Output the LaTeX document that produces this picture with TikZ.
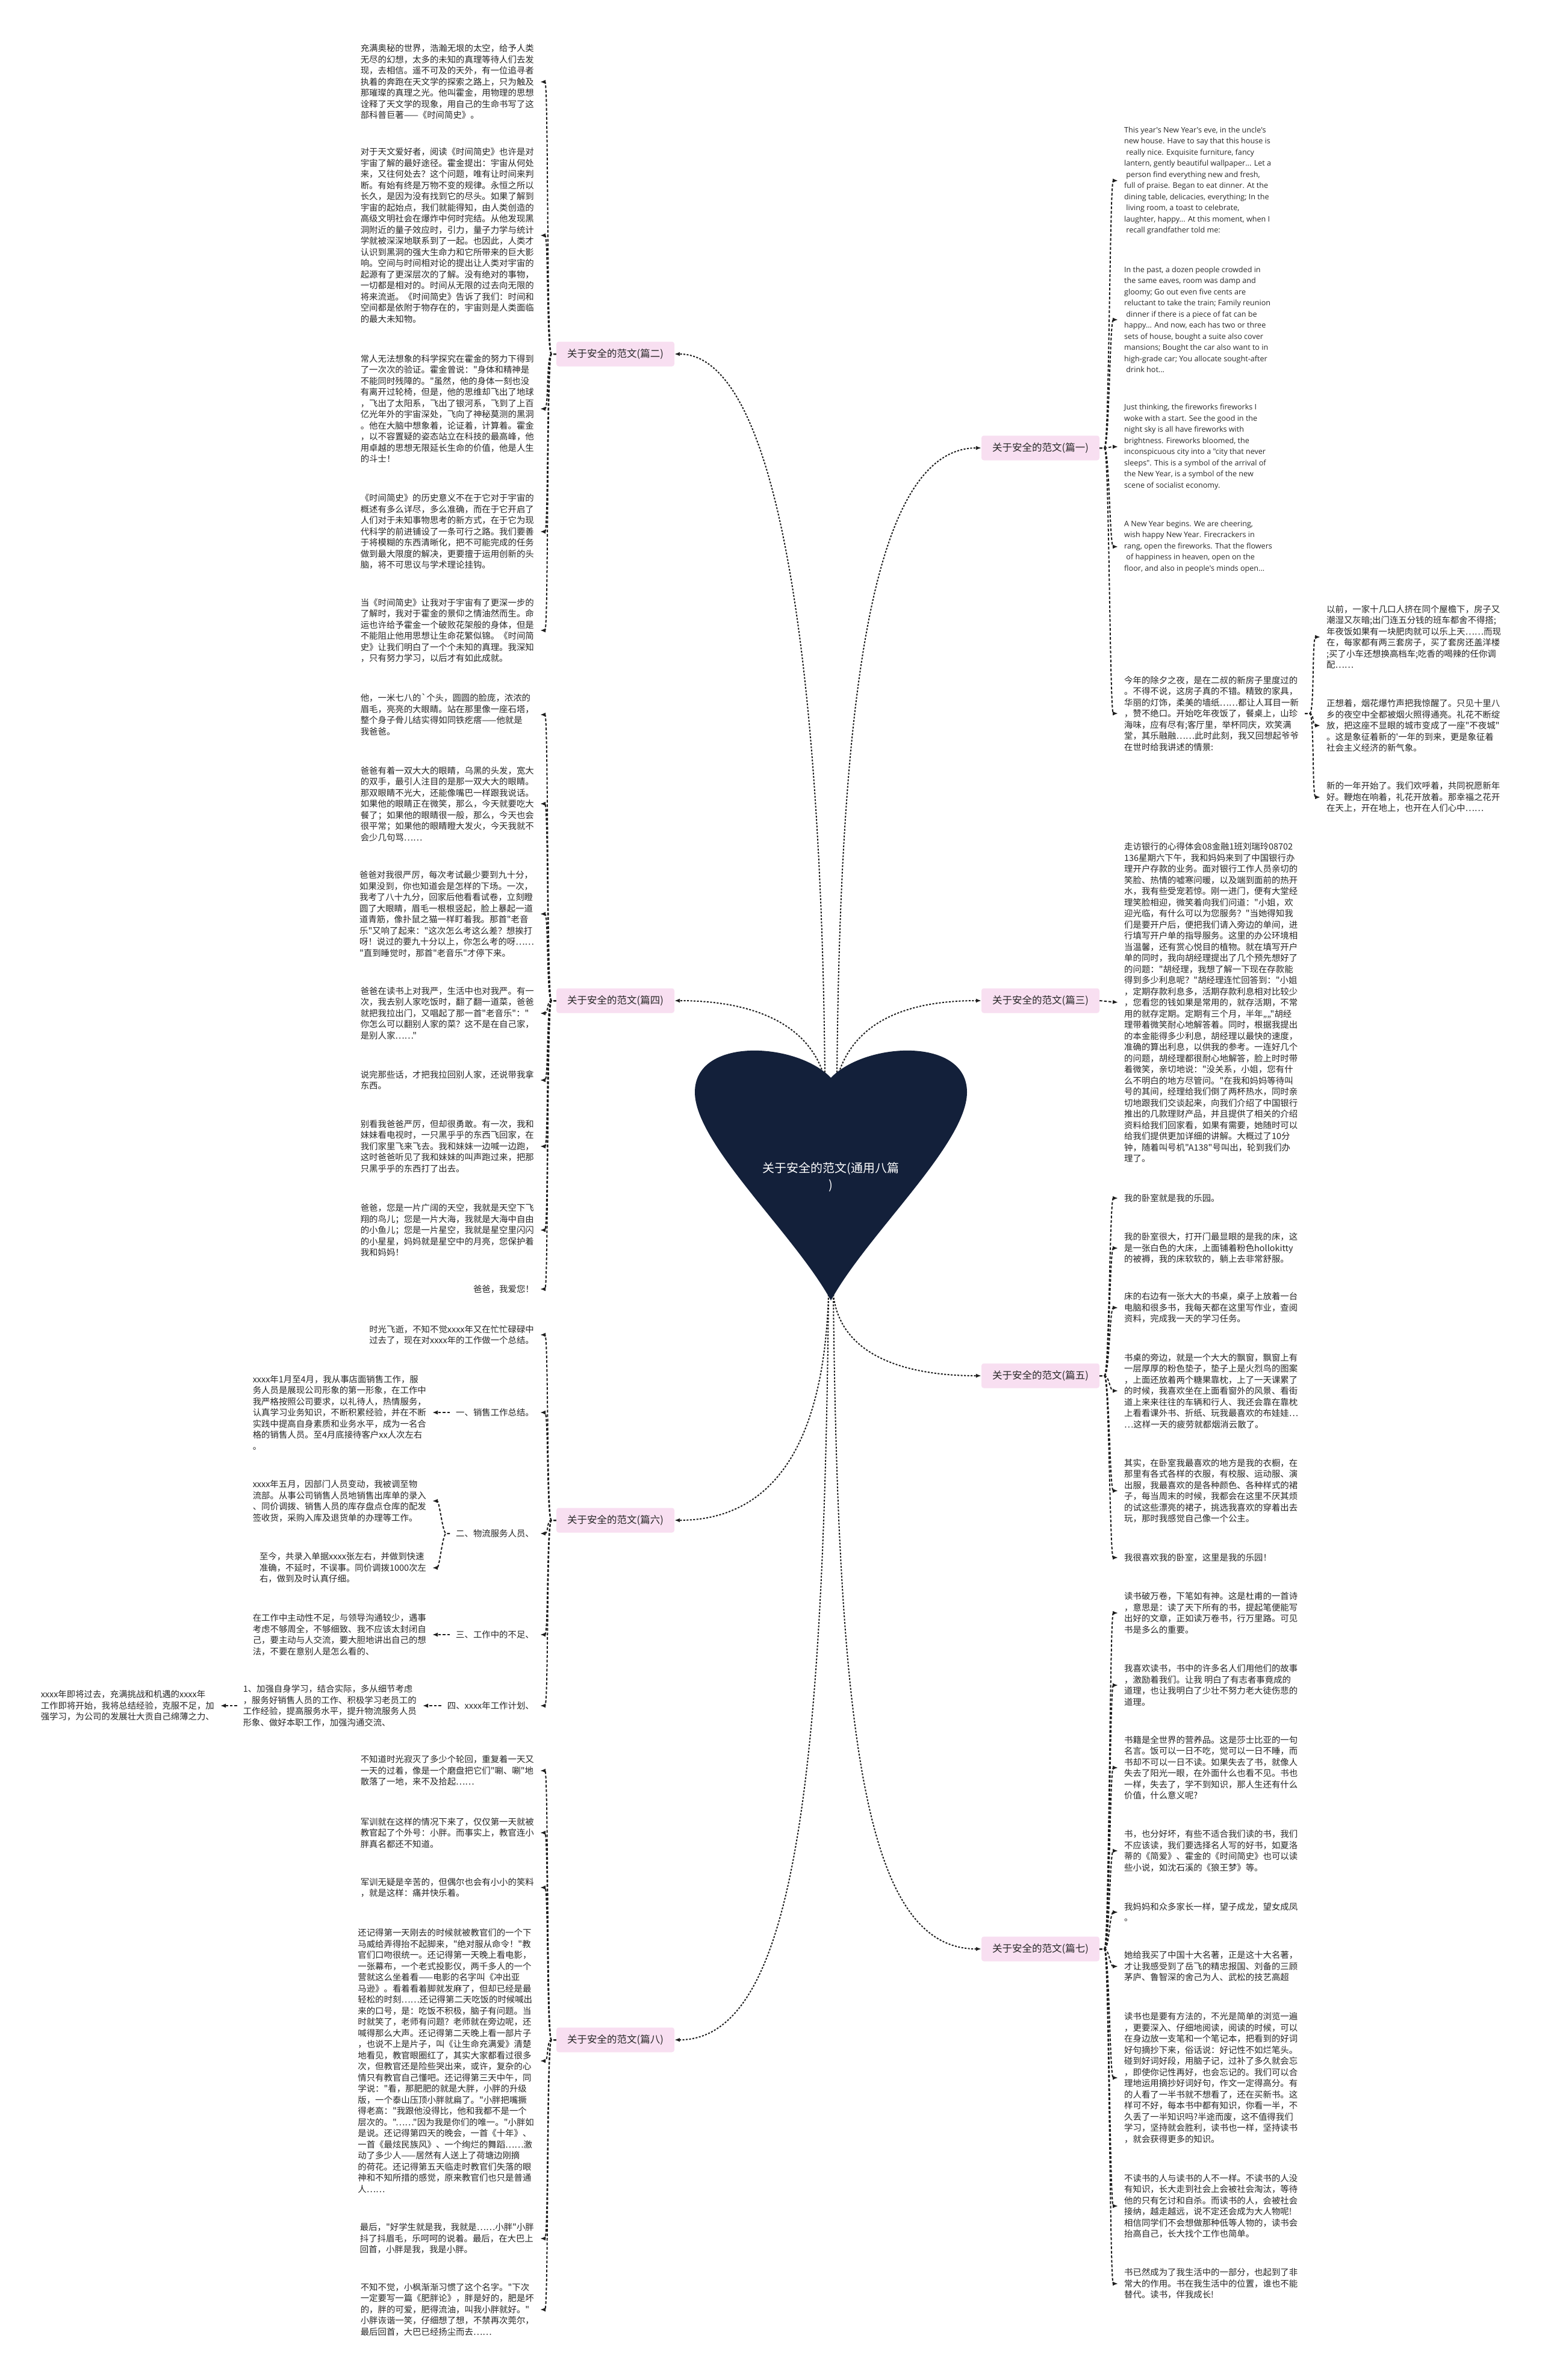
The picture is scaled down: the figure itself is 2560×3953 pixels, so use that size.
\documentclass[tikz,border=0pt]{standalone}
\usepackage{fontspec}
\usetikzlibrary{arrows.meta}
\newfontfamily\cjk{Noto Sans CJK SC}
\newfontfamily\efont{Open Sans}
\definecolor{pinkc}{HTML}{F8DFF1}
\definecolor{heartc}{HTML}{13203A}
\definecolor{linec}{HTML}{1E1E1E}
\definecolor{textc}{HTML}{262626}
\begin{document}
\begin{tikzpicture}[x=1pt,y=-1pt,
  txt/.style={font=\cjk\fontsize{14.4}{18.5}\selectfont, text=textc, align=left, inner xsep=10pt, inner ysep=2pt},
  ltxt/.style={txt, anchor=east},
  rtxt/.style={txt, anchor=west},
  etxt/.style={rtxt, font=\efont\fontsize{12.6}{18.5}\selectfont},
  lab/.style={fill=pinkc, rounded corners=4pt, font=\cjk\fontsize{16.5}{20}\selectfont, text=textc, minimum width=196pt, minimum height=41pt, inner sep=0pt},
  conn/.style={draw=linec, line width=2pt, dash pattern=on 4.5pt off 3pt, -{Latex[length=9pt,width=7pt]}},
  mconn/.style={draw=linec, line width=2pt, dash pattern=on 3pt off 2.5pt, -{Latex[length=9pt,width=7pt]}}
]
\useasboundingbox (0,0) rectangle (2560,3953);
\fill[white] (0,0) rectangle (2560,3953);

% ---------- heart anchor points ----------
\coordinate (htl) at (1370,1792);
\coordinate (htr) at (1390,1792);
\coordinate (hbl) at (1376,2150);
\coordinate (hbr) at (1384,2150);

% ---------- branch labels ----------
\node[lab] (l2) at (1022,588) {关于安全的范文(篇二)};
\node[lab] (l4) at (1022,1662) {关于安全的范文(篇四)};
\node[lab] (l6) at (1022,2525) {关于安全的范文(篇六)};
\node[lab] (l8) at (1022,3388) {关于安全的范文(篇八)};
\node[lab] (l1) at (1728,744) {关于安全的范文(篇一)};
\node[lab] (l3) at (1728,1662) {关于安全的范文(篇三)};
\node[lab] (l5) at (1728,2285) {关于安全的范文(篇五)};
\node[lab] (l7) at (1728,3237) {关于安全的范文(篇七)};

% ---------- 篇二 ----------
\node[ltxt] (a1) at (897,136) {充满奥秘的世界，浩瀚无垠的太空，给予人类\\无尽的幻想，太多的未知的真理等待人们去发\\现，去相信。遥不可及的天外，有一位追寻者\\执着的奔跑在天文学的探索之路上，只为触及\\那璀璨的真理之光。他叫霍金，用物理的思想\\诠释了天文学的现象，用自己的生命书写了这\\部科普巨著——《时间简史》。};
\node[ltxt] (a2) at (897,391) {对于天文爱好者，阅读《时间简史》也许是对\\宇宙了解的最好途径。霍金提出：宇宙从何处\\来，又往何处去？这个问题，唯有让时间来判\\断。有始有终是万物不变的规律。永恒之所以\\长久，是因为没有找到它的尽头。如果了解到\\宇宙的起始点，我们就能得知，由人类创造的\\高级文明社会在爆炸中何时完结。从他发现黑\\洞附近的量子效应时，引力，量子力学与统计\\学就被深深地联系到了一起。也因此，人类才\\认识到黑洞的强大生命力和它所带来的巨大影\\响。空间与时间相对论的提出让人类对宇宙的\\起源有了更深层次的了解。没有绝对的事物，\\一切都是相对的。时间从无限的过去向无限的\\将来流逝。《时间简史》告诉了我们：时间和\\空间都是依附于物存在的，宇宙则是人类面临\\的最大未知物。};
\node[ltxt] (a3) at (897,679) {常人无法想象的科学探究在霍金的努力下得到\\了一次次的验证。霍金曾说："身体和精神是\\不能同时残障的。"虽然，他的身体一刻也没\\有离开过轮椅，但是，他的思维却飞出了地球\\，飞出了太阳系，飞出了银河系，飞到了上百\\亿光年外的宇宙深处，飞向了神秘莫测的黑洞\\。他在大脑中想象着，论证着，计算着。霍金\\，以不容置疑的姿态站立在科技的最高峰，他\\用卓越的思想无限延长生命的价值，他是人生\\的斗士！};
\node[ltxt] (a4) at (897,883) {《时间简史》的历史意义不在于它对于宇宙的\\概述有多么详尽，多么准确，而在于它开启了\\人们对于未知事物思考的新方式，在于它为现\\代科学的前进铺设了一条可行之路。我们要善\\于将模糊的东西清晰化，把不可能完成的任务\\做到最大限度的解决，更要擅于运用创新的头\\脑，将不可思议与学术理论挂钩。};
\node[ltxt] (a5) at (897,1047) {当《时间简史》让我对于宇宙有了更深一步的\\了解时，我对于霍金的景仰之情油然而生。命\\运也许给予霍金一个破败花架般的身体，但是\\不能阻止他用思想让生命花繁似锦。《时间简\\史》让我们明白了一个个未知的真理。我深知\\，只有努力学习，以后才有如此成就。};

% ---------- 篇四 ----------
\node[ltxt] (b1) at (897,1187) {他，一米七八的\symbol{96}个头，圆圆的脸庞，浓浓的\\眉毛，亮亮的大眼睛。站在那里像一座石塔，\\整个身子骨儿结实得如同铁疙瘩——他就是\\我爸爸。};
\node[ltxt] (b2) at (897,1335) {爸爸有着一双大大的眼睛，乌黑的头发，宽大\\的双手，最引人注目的是那一双大大的眼睛。\\那双眼睛不光大，还能像嘴巴一样跟我说话。\\如果他的眼睛正在微笑，那么，今天就要吃大\\餐了；如果他的眼睛很一般，那么，今天也会\\很平常；如果他的眼睛瞪大发火，今天我就不\\会少几句骂……};
\node[ltxt] (b3) at (897,1518) {爸爸对我很严厉，每次考试最少要到九十分，\\如果没到，你也知道会是怎样的下场。一次，\\我考了八十九分，回家后他看看试卷，立刻瞪\\圆了大眼睛，眉毛一根根竖起，脸上暴起一道\\道青筋，像扑鼠之猫一样盯着我。那首"老音\\乐"又响了起来："这次怎么考这么差？想挨打\\呀！说过的要九十分以上，你怎么考的呀……\\"直到睡觉时，那首"老音乐"才停下来。};
\node[ltxt] (b4) at (897,1683) {爸爸在读书上对我严，生活中也对我严。有一\\次，我去别人家吃饭时，翻了翻一道菜，爸爸\\就把我拉出门，又唱起了那一首"老音乐"："\\你怎么可以翻别人家的菜？这不是在自己家，\\是别人家……"};
\node[ltxt] (b5) at (897,1794) {说完那些话，才把我拉回别人家，还说带我拿\\东西。};
\node[ltxt] (b6) at (897,1904) {别看我爸爸严厉，但却很勇敢。有一次，我和\\妹妹看电视时，一只黑乎乎的东西飞回家，在\\我们家里飞来飞去。我和妹妹一边喊一边跑，\\这时爸爸听见了我和妹妹的叫声跑过来，把那\\只黑乎乎的东西打了出去。};
\node[ltxt] (b7) at (897,2043) {爸爸，您是一片广阔的天空，我就是天空下飞\\翔的鸟儿；您是一片大海，我就是大海中自由\\的小鱼儿；您是一片星空，我就是星空里闪闪\\的小星星，妈妈就是星空中的月亮，您保护着\\我和妈妈！};
\node[ltxt] (b8) at (897,2141) {爸爸，我爱您！};

% ---------- 篇六 ----------
\node[ltxt] (t0) at (897,2217) {时光飞逝，不知不觉xxxx年又在忙忙碌碌中\\过去了，现在对xxxx年的工作做一个总结。};
\node[ltxt] (s1) at (897,2346) {一、销售工作总结。};
\node[ltxt] (c1) at (718,2346) {xxxx年1月至4月，我从事店面销售工作，服\\务人员是展现公司形象的第一形象，在工作中\\我严格按照公司要求，以礼待人，热情服务，\\认真学习业务知识，不断积累经验，并在不断\\实践中提高自身素质和业务水平，成为一名合\\格的销售人员。至4月底接待客户xx人次左右\\。};
\node[ltxt] (s2) at (897,2547) {二、物流服务人员、};
\node[ltxt] (c2a) at (718,2493) {xxxx年五月，因部门人员变动，我被调至物\\流部。从事公司销售人员地销售出库单的录入\\、同价调拨、销售人员的库存盘点仓库的配发\\签收货，采购入库及退货单的办理等工作。};
\node[ltxt] (c2b) at (718,2604) {至今，共录入单据xxxx张左右，并做到快速\\准确，不延时，不误事。同价调拨1000次左\\右，做到及时认真仔细。};
\node[ltxt] (s3) at (897,2715) {三、工作中的不足、};
\node[ltxt] (c3) at (718,2715) {在工作中主动性不足，与领导沟通较少，遇事\\考虑不够周全，不够细致、我不应该太封闭自\\己，要主动与人交流，要大胆地讲出自己的想\\法，不要在意别人是怎么看的、};
\node[ltxt] (s4) at (897,2833) {四、xxxx年工作计划、};
\node[ltxt] (c4) at (702,2833) {1、加强自身学习，结合实际，多从细节考虑\\，服务好销售人员的工作、积极学习老员工的\\工作经验，提高服务水平，提升物流服务人员\\形象、做好本职工作，加强沟通交流、};
\node[ltxt] (c5) at (366,2833) {xxxx年即将过去，充满挑战和机遇的xxxx年\\工作即将开始，我将总结经验，克服不足，加\\强学习，为公司的发展壮大贡自己绵薄之力、};

% ---------- 篇八 ----------
\node[ltxt] (d1) at (897,2941) {不知道时光寂灭了多少个轮回，重复着一天又\\一天的过着，像是一个磨盘把它们"唰、唰"地\\散落了一地，来不及拾起……};
\node[ltxt] (d2) at (897,3044) {军训就在这样的情况下来了，仅仅第一天就被\\教官起了个外号：小胖。而事实上，教官连小\\胖真名都还不知道。};
\node[ltxt] (d3) at (897,3135) {军训无疑是辛苦的，但偶尔也会有小小的笑料\\，就是这样：痛并快乐着。};
\node[ltxt] (d4) at (897,3423) {还记得第一天刚去的时候就被教官们的一个下\\马威给弄得抬不起脚来，"绝对服从命令！"教\\官们口吻很统一。还记得第一天晚上看电影，\\一张幕布，一个老式投影仪，两千多人的一个\\营就这么坐着看——电影的名字叫《冲出亚\\马逊》。看着看着脚就发麻了，但却已经是最\\轻松的时刻……还记得第二天吃饭的时候喊出\\来的口号，是：吃饭不积极，脑子有问题。当\\时就笑了，老师有问题？老师就在旁边呢，还\\喊得那么大声。还记得第二天晚上看一部片子\\，也说不上是片子，叫《让生命充满爱》清楚\\地看见，教官眼圈红了，其实大家都看过很多\\次，但教官还是险些哭出来，或许，复杂的心\\情只有教官自己懂吧。还记得第三天中午，同\\学说："看，那肥肥的就是大胖，小胖的升级\\版，一个泰山压顶小胖就扁了。"小胖把嘴撅\\得老高："我跟他没得比，他和我都不是一个\\层次的。"……"因为我是你们的唯一。"小胖如\\是说。还记得第四天的晚会，一首《十年》、\\一首《最炫民族风》、一个绚烂的舞蹈……激\\动了多少人——居然有人送上了荷塘边刚摘\\的荷花。还记得第五天临走时教官们失落的眼\\神和不知所措的感觉，原来教官们也只是普通\\人……};
\node[ltxt] (d5) at (897,3718) {最后，"好学生就是我，我就是……小胖"小胖\\抖了抖眉毛，乐呵呵的说着。最后，在大巴上\\回首，小胖是我，我是小胖。};
\node[ltxt] (d6) at (897,3836) {不知不觉，小枫渐渐习惯了这个名字。"下次\\一定要写一篇《肥胖论》，胖是好的，肥是坏\\的，胖的可爱，肥得流油，叫我小胖就好。"\\小胖诙谐一笑，仔细想了想，不禁再次莞尔，\\最后回首，大巴已经扬尘而去……};

% ---------- 篇一 ----------
\node[etxt] (e1) at (1857,300) {This year's New Year's eve, in the uncle's\\new house. Have to say that this house is\\\ really nice. Exquisite furniture, fancy\\lantern, gently beautiful wallpaper... Let a\\\ person find everything new and fresh,\\full of praise. Began to eat dinner. At the\\dining table, delicacies, everything; In the\\\ living room, a toast to celebrate,\\laughter, happy... At this moment, when I\\\ recall grandfather told me:};
\node[etxt] (e2) at (1857,531) {In the past, a dozen people crowded in\\the same eaves, room was damp and\\gloomy; Go out even five cents are\\reluctant to take the train; Family reunion\\\ dinner if there is a piece of fat can be\\happy... And now, each has two or three\\sets of house, bought a suite also cover\\mansions; Bought the car also want to in\\high-grade car; You allocate sought-after\\\ drink hot...};
\node[etxt] (e3) at (1857,742) {Just thinking, the fireworks fireworks I\\woke with a start. See the good in the\\night sky is all have fireworks with\\brightness. Fireworks bloomed, the\\inconspicuous city into a "city that never\\sleeps". This is a symbol of the arrival of\\the New Year, is a symbol of the new\\scene of socialist economy.};
\node[etxt] (e4) at (1857,908) {A New Year begins. We are cheering,\\wish happy New Year. Firecrackers in\\rang, open the fireworks. That the flowers\\\ of happiness in heaven, open on the\\floor, and also in people's minds open...};
\node[rtxt] (e5) at (1857,1185) {今年的除夕之夜，是在二叔的新房子里度过的\\。不得不说，这房子真的不错。精致的家具，\\华丽的灯饰，柔美的墙纸……都让人耳目一新\\，赞不绝口。开始吃年夜饭了，餐桌上，山珍\\海味，应有尽有;客厅里，举杯同庆，欢笑满\\堂，其乐融融……此时此刻，我又回想起爷爷\\在世时给我讲述的情景:};
\node[rtxt] (fa) at (2193,1058) {以前，一家十几口人挤在同个屋檐下，房子又\\潮湿又灰暗;出门连五分钱的班车都舍不得搭;\\年夜饭如果有一块肥肉就可以乐上天……而现\\在，每家都有两三套房子，买了套房还盖洋楼\\;买了小车还想换高档车;吃香的喝辣的任你调\\配……};
\node[rtxt] (fb) at (2193,1205) {正想着，烟花爆竹声把我惊醒了。只见十里八\\乡的夜空中全都被烟火照得通亮。礼花不断绽\\放，把这座不显眼的城市变成了一座"不夜城"\\。这是象征着新的'一年的到来，更是象征着\\社会主义经济的新气象。};
\node[rtxt] (fc) at (2193,1324) {新的一年开始了。我们欢呼着，共同祝愿新年\\好。鞭炮在响着，礼花开放着。那幸福之花开\\在天上，开在地上，也开在人们心中……};

% ---------- 篇三 ----------
\node[rtxt] (g1) at (1857,1665) {走访银行的心得体会08金融1班刘瑞玲08702\\136星期六下午，我和妈妈来到了中国银行办\\理开户存款的业务。面对银行工作人员亲切的\\笑脸、热情的嘘寒问暖，以及端到面前的热开\\水，我有些受宠若惊。刚一进门，便有大堂经\\理笑脸相迎，微笑着向我们问道："小姐，欢\\迎光临，有什么可以为您服务？"当她得知我\\们是要开户后，便把我们请入旁边的单间，进\\行填写开户单的指导服务。这里的办公环境相\\当温馨，还有赏心悦目的植物。就在填写开户\\单的同时，我向胡经理提出了几个预先想好了\\的问题："胡经理，我想了解一下现在存款能\\得到多少利息呢？"胡经理连忙回答到："小姐\\，定期存款利息多，活期存款利息相对比较少\\，您看您的钱如果是常用的，就存活期，不常\\用的就存定期。定期有三个月，半年„„"胡经\\理带着微笑耐心地解答着。同时，根据我提出\\的本金能得多少利息，胡经理以最快的速度，\\准确的算出利息，以供我的参考。一连好几个\\的问题，胡经理都很耐心地解答，脸上时时带\\着微笑，亲切地说："没关系，小姐，您有什\\么不明白的地方尽管问。"在我和妈妈等待叫\\号的其间，经理给我们倒了两杯热水，同时亲\\切地跟我们交谈起来，向我们介绍了中国银行\\推出的几款理财产品，并且提供了相关的介绍\\资料给我们回家看，如果有需要，她随时可以\\给我们提供更加详细的讲解。大概过了10分\\钟，随着叫号机"A138"号叫出，轮到我们办\\理了。};

% ---------- 篇五 ----------
\node[rtxt] (h1) at (1857,1990) {我的卧室就是我的乐园。};
\node[rtxt] (h2) at (1857,2073) {我的卧室很大，打开门最显眼的是我的床，这\\是一张白色的大床，上面铺着粉色hollokitty\\的被褥，我的床软软的，躺上去非常舒服。};
\node[rtxt] (h3) at (1857,2172) {床的右边有一张大大的书桌，桌子上放着一台\\电脑和很多书，我每天都在这里写作业，查阅\\资料，完成我一天的学习任务。};
\node[rtxt] (h4) at (1857,2310) {书桌的旁边，就是一个大大的飘窗，飘窗上有\\一层厚厚的粉色垫子，垫子上是火烈鸟的图案\\，上面还放着两个糖果靠枕，上了一天课累了\\的时候，我喜欢坐在上面看窗外的风景、看街\\道上来来往往的车辆和行人、我还会靠在靠枕\\上看看课外书、折纸、玩我最喜欢的布娃娃…\\…这样一天的疲劳就都烟消云散了。};
\node[rtxt] (h5) at (1857,2476) {其实，在卧室我最喜欢的地方是我的衣橱，在\\那里有各式各样的衣服，有校服、运动服、演\\出服，我最喜欢的是各种颜色、各种样式的裙\\子，每当周末的时候，我都会在这里不厌其烦\\的试这些漂亮的裙子，挑选我喜欢的穿着出去\\玩，那时我感觉自己像一个公主。};
\node[rtxt] (h6) at (1857,2587) {我很喜欢我的卧室，这里是我的乐园！};

% ---------- 篇七 ----------
\node[rtxt] (k1) at (1857,2679) {读书破万卷，下笔如有神。这是杜甫的一首诗\\，意思是：读了天下所有的书，提起笔便能写\\出好的文章，正如读万卷书，行万里路。可见\\书是多么的重要。};
\node[rtxt] (k2) at (1857,2799) {我喜欢读书，书中的许多名人们用他们的故事\\，激励着我们。让我 明白了有志者事竟成的\\道理，也让我明白了少壮不努力老大徒伤悲的\\道理。};
\node[rtxt] (k3) at (1857,2936) {书籍是全世界的营养品。这是莎士比亚的一句\\名言。饭可以一日不吃，觉可以一日不睡，而\\书却不可以一日不读。如果失去了书，就像人\\失去了阳光一眼，在外面什么也看不见。书也\\一样，失去了，学不到知识，那人生还有什么\\价值，什么意义呢?};
\node[rtxt] (k4) at (1857,3074) {书，也分好坏，有些不适合我们读的书，我们\\不应该读，我们要选择名人写的好书，如夏洛\\蒂的《简爱》、霍金的《时间简史》也可以读\\些小说，如沈石溪的《狼王梦》等。};
\node[rtxt] (k5) at (1857,3176) {我妈妈和众多家长一样，望子成龙，望女成凤\\。};
\node[rtxt] (k6) at (1857,3266) {她给我买了中国十大名著，正是这十大名著，\\才让我感受到了岳飞的精忠报国、刘备的三顾\\茅庐、鲁智深的舍己为人、武松的技艺高超};
\node[rtxt] (k7) at (1857,3451) {读书也是要有方法的，不光是简单的浏览一遍\\，更要深入、仔细地阅读，阅读的时候，可以\\在身边放一支笔和一个笔记本，把看到的好词\\好句摘抄下来，俗话说：好记性不如烂笔头。\\碰到好词好段，用脑子记，过补了多久就会忘\\，即使你记性再好，也会忘记的。我们可以合\\理地运用摘抄好词好句，作文一定得高分。有\\的人看了一半书就不想看了，还在买新书。这\\样可不好，每本书中都有知识，你看一半，不\\久丢了一半知识吗?半途而废，这不值得我们\\学习，坚持就会胜利，读书也一样，坚持读书\\，就会获得更多的知识。};
\node[rtxt] (k8) at (1857,3664) {不读书的人与读书的人不一样。不读书的人没\\有知识，长大走到社会上会被社会淘汰，等待\\他的只有乞讨和自杀。而读书的人，会被社会\\接纳，越走越远，说不定还会成为大人物呢!\\相信同学们不会想做那种低等人物的，读书会\\抬高自己，长大找个工作也简单。};
\node[rtxt] (k9) at (1857,3793) {书已然成为了我生活中的一部分，也起到了非\\常大的作用。书在我生活中的位置，谁也不能\\替代。读书，伴我成长!};

% ---------- main connectors ----------
\draw[mconn] (htl) .. controls (1365,1150) and (1300,588) .. (l2.east);
\draw[mconn] (htl) .. controls (1345,1700) and (1250,1662) .. (l4.east);
\draw[mconn] (hbl) .. controls (1368,2420) and (1270,2525) .. (l6.east);
\draw[mconn] (hbl) .. controls (1368,2950) and (1320,3388) .. (l8.east);
\draw[mconn] (htr) .. controls (1395,1150) and (1450,744) .. (l1.west);
\draw[mconn] (htr) .. controls (1415,1700) and (1500,1662) .. (l3.west);
\draw[mconn] (hbr) .. controls (1395,2250) and (1500,2285) .. (l5.west);
\draw[mconn] (hbr) .. controls (1392,2900) and (1440,3237) .. (l7.west);

% ---------- heart ----------
\fill[heartc] (1380,1790) .. controls (1438,1730) and (1606,1722) .. (1606,1814)
  .. controls (1606,1900) and (1440,2050) .. (1380,2160)
  .. controls (1320,2050) and (1154,1900) .. (1154,1814)
  .. controls (1154,1722) and (1322,1730) .. (1380,1790) -- cycle;
\node[font=\cjk\fontsize{20}{28}\selectfont, text=white, align=center] (title) at (1380,1955) {关于安全的范文(通用八篇\\)};

% ---------- leaf brackets: left ----------
\foreach \n in {a1,a2,a3,a4,a5}
  \draw[conn] (l2.west) -- ++(-8,0) .. controls +(-8,0) and +(14,0) .. (\n.east);
\foreach \n in {b1,b2,b3,b4,b5,b6,b7,b8}
  \draw[conn] (l4.west) -- ++(-8,0) .. controls +(-8,0) and +(14,0) .. (\n.east);
\foreach \n in {t0,s1,s2,s3,s4}
  \draw[conn] (l6.west) -- ++(-8,0) .. controls +(-8,0) and +(14,0) .. (\n.east);
\foreach \n in {d1,d2,d3,d4,d5,d6}
  \draw[conn] (l8.west) -- ++(-8,0) .. controls +(-8,0) and +(14,0) .. (\n.east);
\draw[conn] (s1.west) -- (c1.east);
\foreach \n in {c2a,c2b}
  \draw[conn] (s2.west) -- ++(-6,0) .. controls +(-6,0) and +(12,0) .. (\n.east);
\draw[conn] (s3.west) -- (c3.east);
\draw[conn] (s4.west) -- (c4.east);
\draw[conn] (c4.west) -- (c5.east);

% ---------- leaf brackets: right ----------
\foreach \n in {e1,e2,e3,e4,e5}
  \draw[conn] (l1.east) -- ++(8,0) .. controls +(8,0) and +(-14,0) .. (\n.west);
\foreach \n in {fa,fb,fc}
  \draw[conn] (e5.east) -- ++(8,0) .. controls +(8,0) and +(-14,0) .. (\n.west);
\draw[conn] (l3.east) -- (g1.west);
\foreach \n in {h1,h2,h3,h4,h5,h6}
  \draw[conn] (l5.east) -- ++(8,0) .. controls +(8,0) and +(-14,0) .. (\n.west);
\foreach \n in {k1,k2,k3,k4,k5,k6,k7,k8,k9}
  \draw[conn] (l7.east) -- ++(8,0) .. controls +(8,0) and +(-14,0) .. (\n.west);
\end{tikzpicture}
\end{document}
